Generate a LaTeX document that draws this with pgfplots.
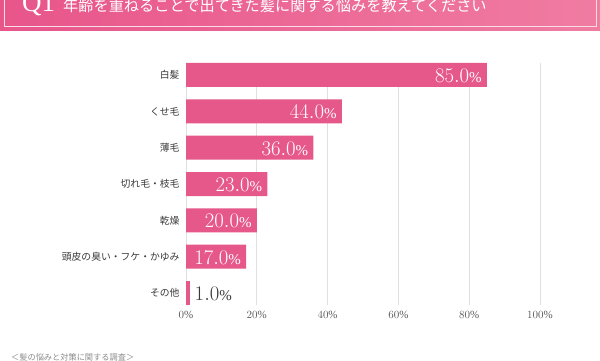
\documentclass[border=0pt]{standalone}
\usepackage{pgfplots}
\pgfplotsset{compat=1.18}
\usepackage{fontspec}
\setmainfont{Liberation Serif}
\newfontfamily\jp{Noto Sans CJK JP}
\definecolor{barpink}{HTML}{E6588A}
\definecolor{bannerL}{HTML}{E8558A}
\definecolor{bannerR}{HTML}{F07CA2}
\definecolor{txtdark}{HTML}{3A3A3A}
\definecolor{ticktxt}{HTML}{5A5A5A}
\begin{document}
\begin{tikzpicture}[x=1pt,y=1pt]
\useasboundingbox (0,0) rectangle (600,360);
\clip (0,0) rectangle (600,360);
\fill[white] (0,0) rectangle (600,360);
% banner
\shade[left color=bannerL, right color=bannerR] (0,330) rectangle (600,360);
\draw[white!80!bannerL, line width=0.7pt] (4,362) -- (4,334) -- (596,334) -- (596,362);
\node[anchor=base west, inner sep=0pt, text=white] at (22,348.5)
  {\fontsize{27}{27}\selectfont Q1\hspace{8pt}{\jp\fontsize{15.2}{16}\selectfont 年齢を重ねることで出てきた髪に関する悩みを教えてください}};
\begin{axis}[
  at={(186pt,55pt)}, anchor=south west,
  scale only axis, width=354pt, height=242pt,
  xmin=0, xmax=100, ymin=-0.33, ymax=6.33,
  xbar, bar width=24pt, bar shift=0pt,
  axis line style={draw=none},
  major tick length=0pt,
  xtick={0,20,40,60,80,100},
  xticklabel={\pgfmathprintnumber{\tick}\%},
  xticklabel style={font=\fontsize{11}{11}\selectfont, text=ticktxt, yshift=-3pt},
  ytick={0,1,2,3,4,5,6},
  yticklabels={その他,頭皮の臭い・フケ・かゆみ,乾燥,切れ毛・枝毛,薄毛,くせ毛,白髪},
  yticklabel style={font=\jp\fontsize{9.8}{10}\selectfont, text=txtdark, xshift=-3pt},
  xmajorgrids, grid style={draw=black!12, line width=0.7pt},
  clip=false,
]
\addplot[fill=barpink, draw=none,
  nodes near coords={\pgfmathprintnumber[fixed,fixed zerofill,precision=1]{\pgfplotspointmeta}{\fontsize{15}{15}\selectfont\%}},
  point meta=x,
  every node near coord/.append style={anchor=east, text=white, font=\fontsize{22}{22}\selectfont, inner sep=1pt, xshift=-4pt, yshift=-1pt},
] coordinates {(85,6) (44,5) (36,4) (23,3) (20,2) (17,1)};
\addplot[fill=barpink, draw=none,
  nodes near coords={\pgfmathprintnumber[fixed,fixed zerofill,precision=1]{\pgfplotspointmeta}{\fontsize{15}{15}\selectfont\%}},
  point meta=x,
  every node near coord/.append style={anchor=west, text=txtdark, font=\fontsize{22}{22}\selectfont, inner sep=1pt, xshift=4pt, yshift=-1pt},
] coordinates {(1,0)};
\end{axis}
\node[anchor=west, inner sep=0pt, text=black!45] at (11,2.5) {\jp\fontsize{8.2}{9}\selectfont ＜髪の悩みと対策に関する調査＞};
\end{tikzpicture}
\end{document}
